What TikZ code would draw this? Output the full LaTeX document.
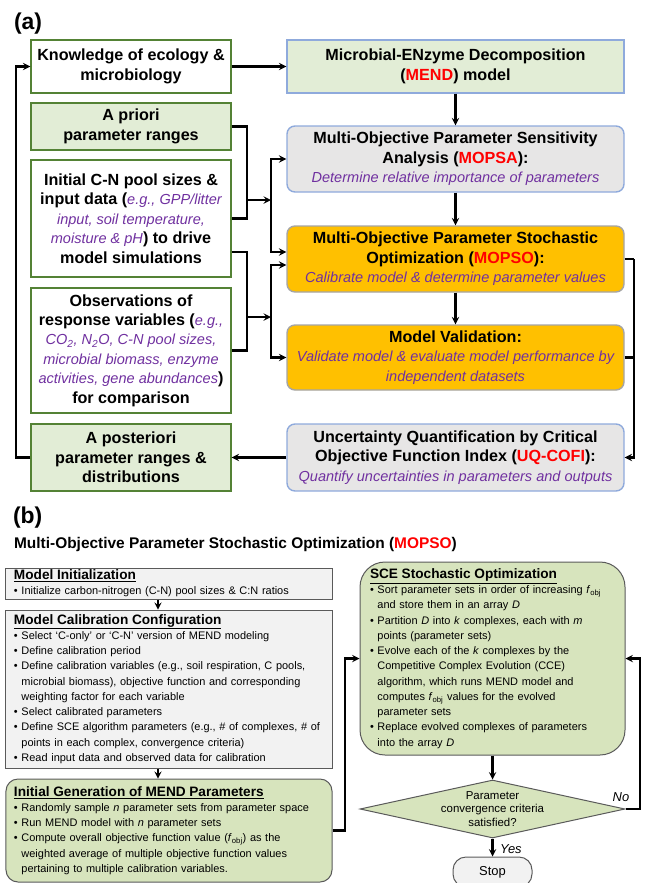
\documentclass[tikz,border=0pt]{standalone}
\usepackage{fontspec}
\setmainfont{Liberation Sans}
\usetikzlibrary{shapes.geometric}
\definecolor{boxgreen}{RGB}{226,237,214}
\definecolor{edgegreen}{RGB}{84,130,53}
\definecolor{edgeblue}{RGB}{143,170,220}
\definecolor{fillgrey}{RGB}{231,230,230}
\definecolor{fillgold}{RGB}{255,192,0}
\definecolor{edgegrey}{RGB}{165,165,165}
\definecolor{purp}{RGB}{112,48,160}
\definecolor{olive}{RGB}{215,228,189}
\definecolor{fillpale}{RGB}{242,242,242}
\definecolor{edgedark}{RGB}{90,90,90}
\newcommand{\purp}[1]{\textcolor{purp}{\mdseries\itshape\fontsize{14.6}{19.5}\selectfont #1}}
\newcommand{\acr}[1]{\textcolor{red}{#1}}
\newcommand{\head}[1]{{\fontsize{13.7}{15.3}\selectfont\bfseries\underline{#1}}}
\newcommand{\bul}{\textbullet\ }
\newcommand{\bulind}{\phantom{\textbullet\ }}
\begin{document}
\begin{tikzpicture}[x=1bp,y=-1bp,>=stealth,line width=2.2bp,
  box/.style={line width=1.4bp,inner sep=0pt,align=center,font=\fontsize{16.2}{19.5}\selectfont\bfseries},
  leftbox/.style={box,draw=edgegreen,fill=white,minimum width=200bp},
  greenbox/.style={leftbox,fill=boxgreen},
  rightbox/.style={box,draw=edgeblue,fill=fillgrey,minimum width=337bp,rounded corners=8bp},
  goldbox/.style={rightbox,draw=edgegrey,fill=fillgold},
  stepbox/.style={draw=edgedark,line width=1bp,fill=fillpale,text width=310bp,inner xsep=8bp,inner ysep=0pt,align=left,font=\fontsize{11}{15.3}\selectfont},
  genbox/.style={stepbox,fill=olive,rounded corners=12bp},
  tag/.style={inner sep=0pt,anchor=west,font=\fontsize{23}{27}\selectfont\bfseries},
  answer/.style={inner sep=0pt,font=\fontsize{13}{15}\selectfont\itshape}]
  \useasboundingbox (0,0) rectangle (648,883);
  \node[tag] (la) at (13,24) {(a)};
  \node[leftbox,minimum height=53bp] (know) at (131,66.5) {Knowledge of ecology \&\\microbiology};
  \node[box,draw=edgeblue,fill=boxgreen,minimum width=337bp,minimum height=53bp] (mend) at (455.5,66.5) {Microbial-ENzyme Decomposition\\(\acr{MEND}) model};
  \node[greenbox,minimum height=47bp] (prior) at (131,126.5) {A priori\\parameter ranges};
  \node[leftbox,minimum height=117bp] (init) at (131,218.5) {Initial C-N pool sizes \&\\input data (\purp{e.g., GPP/litter}\\\purp{input, soil temperature,}\\\purp{moisture \& pH}) to drive\\model simulations};
  \node[leftbox,minimum height=125bp] (obs) at (131,350.5) {Observations of\\response variables (\purp{e.g.,}\\\purp{CO\textsubscript{2}, N\textsubscript{2}O, C-N pool sizes,}\\\purp{microbial biomass, enzyme}\\\purp{activities, gene abundances})\\for comparison};
  \node[greenbox,minimum height=67bp] (post) at (131,457.5) {A posteriori\\parameter ranges \&\\distributions};
  \node[rightbox,minimum height=66bp] (mopsa) at (455.5,159) {Multi-Objective Parameter Sensitivity\\Analysis (\acr{MOPSA}):\\\purp{Determine relative importance of parameters}};
  \node[goldbox,minimum height=66bp] (mopso) at (455.5,259) {Multi-Objective Parameter Stochastic\\Optimization (\acr{MOPSO}):\\\purp{Calibrate model \& determine parameter values}};
  \node[goldbox,minimum height=65bp] (valid) at (455.5,357.5) {Model Validation:\\\purp{Validate model \& evaluate model performance by}\\\purp{independent datasets}};
  \node[rightbox,minimum height=67bp] (uq) at (455.5,457.5) {Uncertainty Quantification by Critical\\Objective Function Index (\acr{UQ-COFI}):\\\purp{Quantify uncertainties in parameters and outputs}};
  \coordinate (fb) at (16,66.5);
  \coordinate (j1) at (247,200);
  \coordinate (s1) at (271,200);
  \coordinate (j2) at (247,317);
  \coordinate (s2) at (271,317);
  \coordinate (rb) at (634,259);
  \draw[->] (know.east) -- (mend.west);
  \draw[->] (mend) -- (mopsa);
  \draw[->] (mopsa) -- (mopso);
  \draw[->] (mopso) -- (valid);
  \draw[->] (uq.west) -- (post.east);
  \draw[->] (post.west) -| (fb) -- (know.west);
  \draw (prior.east) -| (j1) |- (init.east);
  \draw[->] (j1) -- (s1);
  \draw[->] (s1) |- (mopsa.west);
  \draw[->] (s1) |- ([yshift=7bp]mopso.west);
  \draw ([yshift=-33.5bp]init.east) -| (j2) |- (obs.east);
  \draw[->] (j2) -- (s2);
  \draw[->] (s2) |- ([yshift=-6bp]mopso.west);
  \draw[->] (s2) |- (valid.west);
  \draw (mopso.east) -- (rb);
  \draw (valid.east) -- (valid.east -| rb);
  \draw[->] (rb) |- (uq.east);
  \node[tag] (lb) at (12,518) {(b)};
  \node[inner sep=0pt,anchor=west,font=\fontsize{15.5}{18}\selectfont\bfseries] (ttl) at (13,545) {Multi-Objective Parameter Stochastic Optimization (\acr{MOPSO})};
  \node[stepbox,minimum height=31bp] (minit) at (169,583.5) {\head{Model Initialization}\\\bul Initialize carbon-nitrogen (C-N) pool sizes \& C:N ratios};
  \node[stepbox,minimum height=158bp] (calib) at (169,689) {\head{Model Calibration Configuration}\\
    \bul Select `C-only' or `C-N' version of MEND modeling\\
    \bul Define calibration period\\
    \bul Define calibration variables (e.g., soil respiration, C pools,\\
    \bulind microbial biomass), objective function and corresponding\\
    \bulind weighting factor for each variable\\
    \bul Select calibrated parameters\\
    \bul Define SCE algorithm parameters (e.g., \# of complexes, \# of\\
    \bulind points in each complex, convergence criteria)\\
    \bul Read input data and observed data for calibration};
  \node[genbox,minimum height=103bp] (igen) at (169,830.5) {\head{Initial Generation of MEND Parameters}\\
    \bul Randomly sample \textit{n} parameter sets from parameter space\\
    \bul Run MEND model with \textit{n} parameter sets\\
    \bul Compute overall objective function value (\textit{f}\textsubscript{obj}) as the\\
    \bulind weighted average of multiple objective function values\\
    \bulind pertaining to multiple calibration variables.};
  \node[genbox,text width=245bp,inner xsep=10bp,rounded corners=25bp,minimum height=193bp] (sce) at (492.5,658.5) {\head{SCE Stochastic Optimization}\\
    \bul Sort parameter sets in order of increasing \textit{f}\textsubscript{obj}\\
    \bulind and store them in an array \textit{D}\\
    \bul Partition \textit{D} into \textit{k} complexes, each with \textit{m}\\
    \bulind points (parameter sets)\\
    \bul Evolve each of the \textit{k} complexes by the\\
    \bulind Competitive Complex Evolution (CCE)\\
    \bulind algorithm, which runs MEND model and\\
    \bulind computes \textit{f}\textsubscript{obj} values for the evolved\\
    \bulind parameter sets\\
    \bul Replace evolved complexes of parameters\\
    \bulind into the array \textit{D}};
  \node[diamond,draw=edgedark,line width=1bp,fill=olive,minimum width=265bp,minimum height=58bp,inner sep=0pt] (crit) at (492.5,809) {};
  \node[align=center,inner sep=0pt,font=\fontsize{11.5}{13.5}\selectfont] (crittext) at (crit) {Parameter\\convergence criteria\\satisfied?};
  \node[draw=edgedark,line width=1bp,fill=fillpale,rounded corners=13bp,minimum width=79bp,minimum height=30bp,inner sep=0pt,font=\fontsize{13}{15}\selectfont] (stop) at (492.5,872) {Stop};
  \coordinate (lp) at (345,658.5);
  \coordinate (rp) at (640,658.5);
  \draw[->,line width=2bp] ([xshift=-11bp]minit.south) -- ([xshift=-11bp]calib.north);
  \draw[->,line width=2bp] ([xshift=-11bp]calib.south) -- ([xshift=-11bp]igen.north);
  \draw[->] (igen.east) -| (lp) -- (sce.west);
  \draw[->] (sce) -- (crit);
  \draw[->] (crit.east) -| (rp) -- (sce.east);
  \draw[->] (crit) -- (stop);
  \node[answer,anchor=west] (yes) at (499,849) {Yes};
  \node[answer] (no) at (621,797) {No};
\end{tikzpicture}
\end{document}
